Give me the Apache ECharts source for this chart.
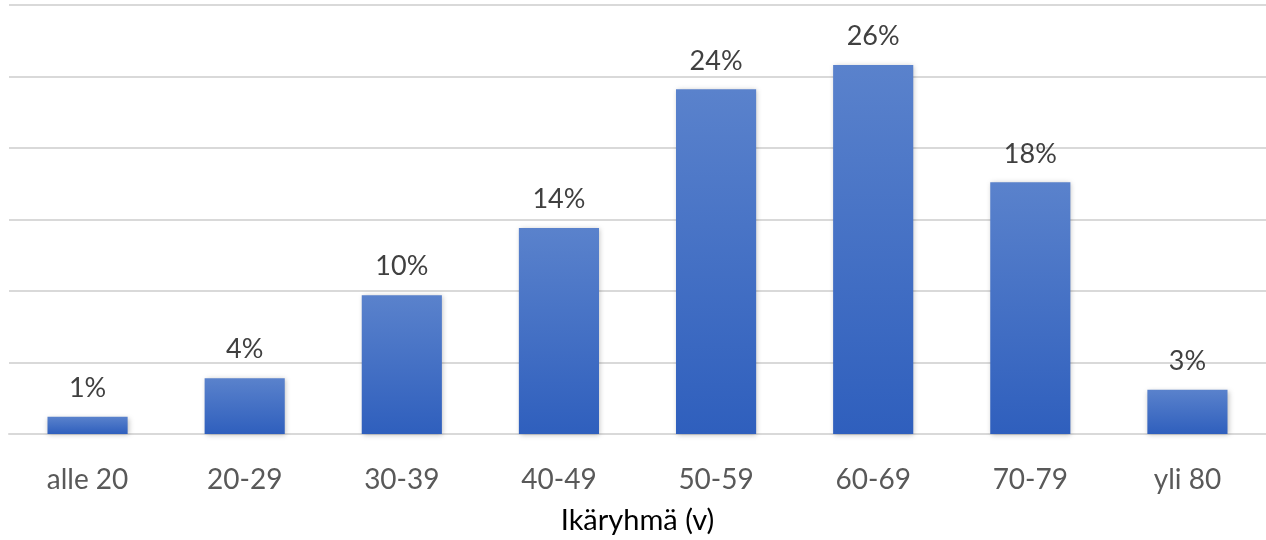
<!DOCTYPE html>
<html>
<head>
<meta charset="utf-8">
<script src="https://cdn.jsdelivr.net/npm/echarts@6/dist/echarts.min.js"></script>
<style>
  html, body { margin: 0; padding: 0; background: #fff; }
  #chart { width: 1266px; height: 540px; }
</style>
</head>
<body>
<div id="chart"></div>
<script>
// Age groups and their share of respondents (%)
const categories = ['alle 20', '20-29', '30-39', '40-49', '50-59', '60-69', '70-79', 'yli 80'];
const shares = [1.2, 3.9, 9.7, 14.4, 24.1, 25.8, 17.6, 3.1];
const axisTitle = 'Ikäryhmä (v)';

const fontFamily = 'Lato, "Open Sans", sans-serif';

const chart = echarts.init(document.getElementById('chart'));
chart.setOption({
  animation: false,
  grid: { left: 9, right: 0, top: 5, bottom: 103, containLabel: false },
  xAxis: {
    type: 'category',
    data: categories,
    name: axisTitle,
    nameLocation: 'middle',
    nameGap: 72,
    nameTextStyle: { fontFamily, fontSize: 29, color: '#000' },
    axisLine: { lineStyle: { color: '#d9d9d9', width: 2 } },
    axisTick: { show: false },
    axisLabel: { fontFamily, fontSize: 28, color: '#595959', margin: 32 }
  },
  yAxis: {
    type: 'value',
    min: 0,
    max: 30,
    interval: 5,
    axisLabel: { show: false },
    axisLine: { show: false },
    axisTick: { show: false },
    splitLine: { lineStyle: { color: '#d9d9d9', width: 2 } }
  },
  series: [{
    type: 'bar',
    data: shares,
    barWidth: '51%',
    itemStyle: {
      color: new echarts.graphic.LinearGradient(0, 0, 0, 1, [
        { offset: 0, color: '#5a82cc' },
        { offset: 1, color: '#2f5fbd' }
      ]),
      shadowColor: 'rgba(0,0,0,0.25)',
      shadowBlur: 5,
      shadowOffsetX: 1,
      shadowOffsetY: 1
    },
    label: {
      show: true,
      position: 'top',
      distance: 15,
      fontFamily,
      fontSize: 27,
      color: '#404040',
      formatter: p => Math.round(p.value) + '%'
    }
  }]
});
</script>
</body>
</html>
